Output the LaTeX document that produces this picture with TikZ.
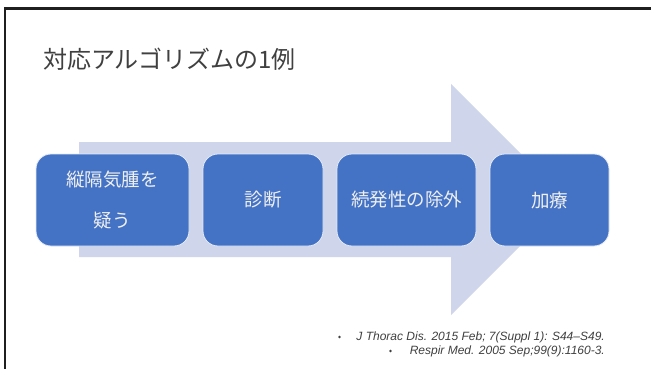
\documentclass[tikz,border=0pt]{standalone}
\usepackage{fontspec}
\setmainfont{Liberation Sans}
\newfontfamily\jpfont{Noto Sans CJK JP}
\definecolor{boxblue}{HTML}{4472C4}
\definecolor{arrowfill}{HTML}{CFD5EA}
\definecolor{txtgray}{HTML}{404040}
\begin{document}
\begin{tikzpicture}[x=1pt,y=-1pt,
  stepbox/.style={draw=white!85!boxblue,line width=0.8pt,fill=boxblue,rounded corners=15pt,
    inner sep=0pt,text=white!94!black,font=\jpfont\fontsize{18.5}{41}\selectfont,align=center},
  refline/.style={font=\itshape\fontsize{12}{14}\selectfont,text=txtgray,anchor=east,inner sep=0pt}]
\useasboundingbox (0,0) rectangle (651,369);
\fill[white] (0,0) rectangle (651,369);
% slide frame
\draw[line width=2.6pt,color=black!88] (5,380) -- (5,8.5) -- (660,8.5);
% title
\node[anchor=west,inner sep=0pt,text=txtgray,font=\jpfont\fontsize{24}{30}\selectfont] (title) at (43,59) {対応アルゴリズムの1例};
% big arrow
\fill[arrowfill] (79,142) -- (451,142) -- (451,84) -- (566.5,199.5) -- (451,315) -- (451,257) -- (79,257) -- cycle;
% boxes
\node[stepbox,minimum width=153pt,minimum height=92pt] (b1) at (112.5,200) {縦隔気腫を\\疑う};
\node[stepbox,minimum width=120pt,minimum height=92pt] (b2) at (263,200) {診断};
\node[stepbox,minimum width=139pt,minimum height=92pt] (b3) at (406.5,200) {続発性の除外};
\node[stepbox,minimum width=119pt,minimum height=92pt] (b4) at (549.5,200) {加療};
% references
\node[refline] (r1) at (605,337) {J Thorac Dis. 2015 Feb; 7(Suppl 1): S44–S49.};
\node[refline] (r2) at (605,351) {Respir Med. 2005 Sep;99(9):1160-3.};
\fill[txtgray] (339.5,337) circle (1.3pt);
\fill[txtgray] (390.5,351) circle (1.3pt);
\end{tikzpicture}
\end{document}
